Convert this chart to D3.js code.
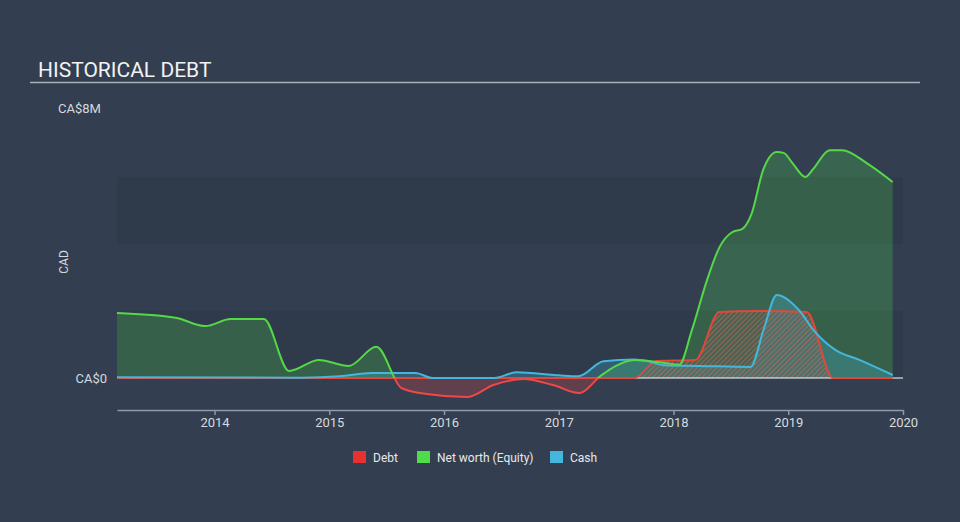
<!DOCTYPE html>
<html><head><meta charset="utf-8">
<script src="https://cdn.jsdelivr.net/npm/d3@7"></script>
<style>html,body{margin:0;padding:0;background:#333f50;} svg{display:block;font-family:Roboto,"Open Sans",sans-serif;}</style>
</head><body>
<svg id="chart" width="960" height="522"></svg>
<script>
// ---- Data (values in CA$ millions, dates in decimal years) ----
const equityYears  = [2013.15,2013.66,2013.92,2014.14,2014.43,2014.65,2014.91,2015.17,2015.41,2015.63,2015.85,2016.20,2016.43,2016.69,2016.95,2017.18,2017.36,2017.49,2017.66,2017.88,2018.05,2018.16,2018.29,2018.40,2018.51,2018.60,2018.68,2018.78,2018.90,2018.96,2019.04,2019.15,2019.22,2019.36,2019.47,2019.69,2019.91];
const equityValues = [1.94,1.80,1.55,1.76,1.76,0.21,0.54,0.36,0.93,-0.30,-0.48,-0.57,-0.21,-0.03,-0.21,-0.45,0.05,0.35,0.54,0.47,0.40,1.43,2.90,3.90,4.35,4.45,4.90,6.20,6.75,6.72,6.40,6.00,6.25,6.80,6.80,6.40,5.85];

const debtYears  = [2013.15,2017.66,2017.85,2018.19,2018.40,2018.75,2019.16,2019.39,2019.91];
const debtValues = [0,0,0.51,0.54,1.97,2.00,1.97,0,0];

const cashYears  = [2013.15,2014.75,2015.09,2015.37,2015.75,2015.90,2016.44,2016.63,2017.00,2017.17,2017.39,2017.66,2017.78,2017.92,2018.23,2018.67,2018.79,2018.90,2019.10,2019.22,2019.41,2019.62,2019.91];
const cashValues = [0.02,0.01,0.05,0.15,0.15,0.00,0.00,0.17,0.08,0.05,0.50,0.55,0.50,0.38,0.36,0.33,1.50,2.48,2.00,1.43,0.84,0.54,0.09];

const xTickYears = [2014,2015,2016,2017,2018,2019,2020];
const yTickLabels = ["CA$0","CA$8M"];
const legendLabels = ["Debt","Net worth (Equity)","Cash"];
const legendColors = ["#e8312f","#4fdc4a","#45b6dc"];

// ---- Layout ----
const svg = d3.select("#chart");
const x = d3.scaleLinear().domain([2013.15, 2020]).range([117, 903]);
const y = d3.scaleLinear().domain([0, 8]).range([378, 110]);
const curve = d3.curveMonotoneX;

const defs = svg.append("defs");
defs.append("clipPath").attr("id","above").append("rect")
  .attr("x",0).attr("y",0).attr("width",960).attr("height",y(0));
defs.append("clipPath").attr("id","below").append("rect")
  .attr("x",0).attr("y",y(0)).attr("width",960).attr("height",200);
const pat = defs.append("pattern").attr("id","hatch").attr("patternUnits","userSpaceOnUse")
  .attr("width",3.5).attr("height",3.5).attr("patternTransform","rotate(45)");
pat.append("rect").attr("width",3.5).attr("height",3.5).attr("fill","rgba(115,100,100,0.4)");
pat.append("line").attr("x1",0).attr("y1",0).attr("x2",0).attr("y2",3.5)
  .attr("stroke","rgba(230,110,75,0.75)").attr("stroke-width",1.2);

// Title
svg.append("text").attr("x",38).attr("y",77).attr("fill","#f2f2f2")
  .attr("font-size",21).text("HISTORICAL DEBT");
svg.append("line").attr("x1",30).attr("x2",920).attr("y1",82.5).attr("y2",82.5)
  .attr("stroke","#a9b0ba").attr("stroke-width",1.5);

// Bands
[[0,2],[4,6]].forEach(b => {
  svg.append("rect").attr("x",x(2013.15)).attr("width",x(2020)-x(2013.15))
    .attr("y",y(b[1])).attr("height",y(b[0])-y(b[1])).attr("fill","#2f3a4a");
});

// Y labels
svg.append("text").attr("x",107).attr("y",382.5).attr("text-anchor","end")
  .attr("fill","#d6dade").attr("font-size",13).text(yTickLabels[0]);
svg.append("text").attr("x",58).attr("y",112.5)
  .attr("fill","#d6dade").attr("font-size",13).text(yTickLabels[1]);
svg.append("text").attr("transform","translate(68,262) rotate(-90)").attr("text-anchor","middle")
  .attr("fill","#d6dade").attr("font-size",12).text("CAD");

// Series data
const eq = equityYears.map((t,i)=>({t, v:equityValues[i]}));
const debt = debtYears.map((t,i)=>({t, v:debtValues[i]}));
const cash = cashYears.map((t,i)=>({t, v:cashValues[i]}));

const area = d3.area().x(d=>x(d.t)).y0(y(0)).y1(d=>y(d.v)).curve(curve);
const line = d3.line().x(d=>x(d.t)).y(d=>y(d.v)).curve(curve);

// Equity area
svg.append("path").datum(eq).attr("d",area).attr("clip-path","url(#above)")
  .attr("fill","rgba(76,212,76,0.25)");
svg.append("path").datum(eq).attr("d",area).attr("clip-path","url(#below)")
  .attr("fill","rgba(232,68,68,0.25)");
// Cash area
svg.append("path").datum(cash).attr("d",area).attr("fill","rgba(69,182,220,0.28)");
// Debt area (hatched)
svg.append("path").datum(debt).attr("d",area).attr("fill","url(#hatch)");

// zero line
svg.append("line").attr("x1",117).attr("x2",903).attr("y1",y(0)).attr("y2",y(0))
  .attr("stroke","#ffffff").attr("stroke-width",1.2);

// Lines
svg.append("path").datum(debt).attr("d",line).attr("fill","none")
  .attr("stroke","#e2483a").attr("stroke-width",2);
svg.append("path").datum(cash).attr("d",line).attr("fill","none")
  .attr("stroke","#45b6dc").attr("stroke-width",2);
svg.append("path").datum(eq).attr("d",line).attr("fill","none").attr("clip-path","url(#above)")
  .attr("stroke","#55d848").attr("stroke-width",2);
svg.append("path").datum(eq).attr("d",line).attr("fill","none").attr("clip-path","url(#below)")
  .attr("stroke","#f04848").attr("stroke-width",2);

// X axis
const ax = svg.append("g").attr("transform","translate(0,410)")
  .call(d3.axisBottom(x).tickValues(xTickYears).tickFormat(d3.format("d")).tickSize(5).tickSizeOuter(0));
ax.select(".domain").attr("stroke","#8f99a8").attr("stroke-width",1.5);
ax.selectAll(".tick line").attr("stroke","#8f99a8").attr("stroke-width",1.5);
ax.selectAll(".tick text").attr("fill","#d6dade").attr("font-size",13)
  .attr("font-family","Roboto,sans-serif").attr("y",8).attr("dy","0.71em");

// Legend
const legX = [353,417,550];
legendLabels.forEach((l,i)=>{
  svg.append("rect").attr("x",legX[i]).attr("y",451).attr("width",13).attr("height",12).attr("fill",legendColors[i]);
  svg.append("text").attr("x",legX[i]+20).attr("y",461.5).attr("fill","#e6e8ea")
    .attr("font-size",12).text(l);
});
</script>
</body></html>
